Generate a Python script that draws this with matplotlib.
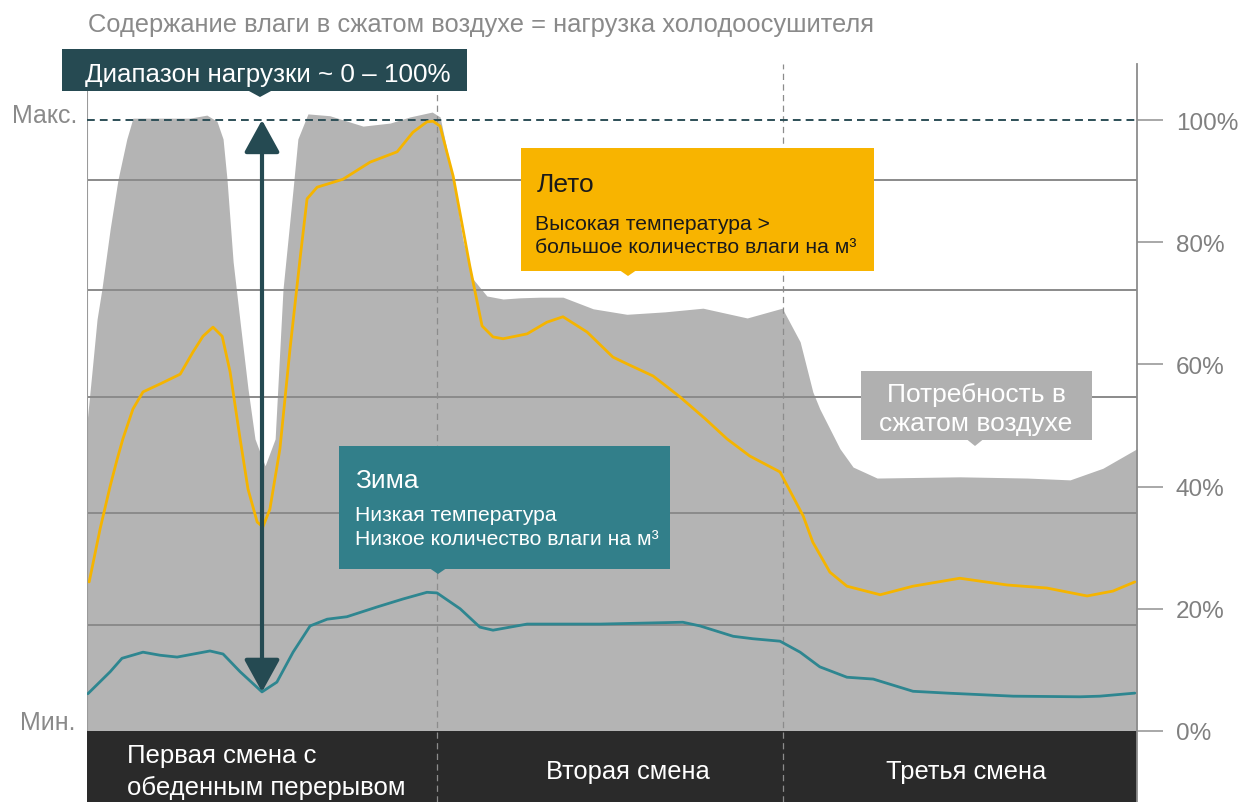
import matplotlib.pyplot as plt
from matplotlib.patches import Rectangle, Polygon, FancyArrowPatch

plt.rcParams['font.family'] = ['Liberation Sans', 'DejaVu Sans']

# compressed air demand (grey area), hours of the day vs load %
demand_hours = [0.00, 0.11, 0.23, 0.34, 0.53, 0.71, 0.91, 1.05, 1.67, 2.35, 2.74, 2.97,
                3.11, 3.20, 3.34, 3.50, 3.68, 3.84, 4.07, 4.30, 4.48, 4.71, 4.82, 5.05,
                5.55, 6.31, 6.93, 7.38, 7.89, 8.07, 8.37, 8.59, 8.82, 9.14, 9.51, 9.90,
                10.35, 10.88, 11.57, 12.34, 13.21, 14.08, 15.09, 15.89, 16.30, 16.59,
                16.75, 17.21, 17.51, 18.06, 19.95, 21.49, 22.47, 23.22, 24.00]
demand = [50.5, 58.5, 67.4, 72.3, 82.2, 90.3, 96.9, 100.3, 100.3, 100.3, 100.8, 99.8,
          96.9, 90.3, 76.8, 66.9, 56.0, 47.8, 43.4, 47.8, 72.3, 88.7, 96.9, 101.0,
          100.7, 99.0, 99.5, 100.5, 101.3, 100.5, 90.3, 80.5, 74.0, 71.2, 70.7, 70.9,
          71.0, 71.0, 69.1, 68.2, 68.6, 69.2, 67.6, 69.2, 63.7, 55.5,
          52.7, 46.2, 43.2, 41.4, 41.6, 41.4, 41.1, 43.0, 46.2]

# summer moisture load
summer_hours = [0.05, 0.30, 0.53, 0.69, 0.82, 1.05, 1.28, 1.67, 2.13, 2.42, 2.65, 2.88,
                3.09, 3.27, 3.50, 3.68, 3.89, 4.02, 4.18, 4.41, 4.64, 4.87, 5.03, 5.26,
                5.85, 6.47, 7.09, 7.45, 7.77, 7.91, 8.07, 8.37, 8.75, 9.03, 9.28, 9.51,
                10.06, 10.51, 10.88, 11.43, 12.02, 12.34, 12.94, 13.55, 14.13, 14.63,
                15.15, 15.84, 16.37, 16.59, 16.98, 17.37, 18.13, 18.88, 19.95, 21.03,
                21.94, 22.86, 23.45, 23.95]
summer = [24.4, 33.1, 40.1, 44.5, 47.8, 52.7, 55.5, 56.8, 58.4, 62.0, 64.6, 66.1,
          64.6, 58.8, 47.8, 39.6, 34.2, 33.4, 36.3, 46.2, 62.5, 77.3, 87.1, 89.0,
          90.3, 93.1, 94.8, 98.0, 99.7, 99.8, 99.0, 90.8, 76.1, 66.3, 64.5, 64.2,
          65.0, 66.9, 67.8, 65.3, 61.2, 60.1, 58.1, 54.7, 51.1, 47.8,
          45.0, 42.4, 35.2, 30.9, 26.0, 23.7, 22.3, 23.7, 25.0, 23.9,
          23.4, 22.1, 22.9, 24.4]

# winter moisture load
winter_hours = [0.02, 0.53, 0.80, 1.28, 1.67, 2.06, 2.81, 3.11, 3.50, 4.00, 4.34, 4.71,
                5.10, 5.49, 5.94, 6.63, 7.22, 7.77, 8.00, 8.53, 8.98, 9.28, 10.06, 11.73,
                13.62, 14.01, 14.77, 15.22, 15.84, 16.30, 16.75, 17.37, 17.97, 18.88,
                19.66, 21.17, 22.70, 23.15, 23.95]
winter = [6.1, 9.7, 11.9, 12.9, 12.4, 12.1, 13.1, 12.6, 9.7, 6.4, 8.0, 12.9,
          17.2, 18.3, 18.7, 20.3, 21.6, 22.7, 22.6, 20.0, 17.0, 16.5, 17.5, 17.5,
          17.8, 17.2, 15.5, 15.1, 14.7, 12.9, 10.5, 8.8, 8.5, 6.5,
          6.2, 5.7, 5.6, 5.7, 6.2]

grid_levels = [17.4, 35.7, 54.7, 72.2, 90.2]
tick_values = [0, 20, 40, 60, 80, 100]
tick_labels = ['0%', '20%', '40%', '60%', '80%', '100%']
shift_edges = [8, 15.9]
range_hour = 4.0
range_low, range_high = 6.4, 100

W, H = 1241, 803
px = 6.11  # pixels per percent
fig = plt.figure(figsize=(W / 100, H / 100), dpi=100)
ax = fig.add_axes([87 / W, 0, 1050 / W, (H - 65) / H])
ax.set_xlim(0, 24)
ax.set_ylim(-(H - 732) / px, (732 - 65) / px)

ax.fill_between(demand_hours, 0, demand, color='#b4b4b4', lw=0, zorder=1)
for g in grid_levels:
    ax.axhline(g, color='#8a8a8a', lw=1.4, zorder=2)
ax.plot([0, 0], [0, 108], color='#9a9a9a', lw=1.5, zorder=2)
ax.axhspan(-(H - 732) / px, 0, color='#2a2a2a', lw=0, zorder=2)
for e in shift_edges:
    ax.axvline(e, color='#8c8c8c', lw=0.9, ls=(0, (5, 3.5)), zorder=2.6)
ax.axhline(100, xmax=0.998, color='#2d4f57', lw=1.4, ls=(0, (4, 2.6)), zorder=2.7)

ax.plot(summer_hours, summer, color='#f5b400', lw=2.0, zorder=3,
        solid_joinstyle='round', solid_capstyle='round')
ax.plot(winter_hours, winter, color='#2e8690', lw=2.0, zorder=3,
        solid_joinstyle='round', solid_capstyle='round')

ax.add_patch(FancyArrowPatch((range_hour, range_low), (range_hour, range_high),
                             arrowstyle='<|-|>,head_length=20,head_width=11',
                             mutation_scale=1, color='#254a52', lw=3,
                             shrinkA=0, shrinkB=0, zorder=4))

for s in ['top', 'left', 'bottom']:
    ax.spines[s].set_visible(False)
ax.spines['right'].set_color('#8c8c8c')
ax.spines['right'].set_linewidth(1.3)
ax.set_xticks([])
ax.yaxis.tick_right()
ax.set_yticks(tick_values)
ax.set_yticklabels(tick_labels)
ax.tick_params(axis='y', direction='out', length=19, width=1.2, color='#9a9a9a',
               pad=9, labelsize=17.5, labelcolor='#808080')

# overlay in pixel coordinates for the text and callouts
ov = fig.add_axes([0, 0, 1, 1], zorder=10)
ov.set_xlim(0, W)
ov.set_ylim(H, 0)
ov.axis('off')
ov.patch.set_alpha(0)


def callout(x0, y0, x1, y1, tip_x, color, half=8, tip=6):
    ov.add_patch(Rectangle((x0, y0), x1 - x0, y1 - y0, color=color, lw=0))
    ov.add_patch(Polygon([(tip_x - half, y1 - 0.5), (tip_x + half, y1 - 0.5),
                          (tip_x, y1 + tip)], color=color, lw=0))


ov.text(88, 32, 'Содержание влаги в сжатом воздухе = нагрузка холодоосушителя',
        color='#8a8a8a', fontsize=18.4)
ov.text(77, 123, 'Макс.', color='#8a8a8a', fontsize=18, ha='right')
ov.text(75, 730, 'Мин.', color='#8a8a8a', fontsize=18, ha='right')

callout(62, 50, 467, 92, 260, '#264a52', half=12, tip=6)
ov.text(85, 82, 'Диапазон нагрузки ~ 0 – 100%', color='white', fontsize=18.7)

callout(521, 149, 874, 272, 628, '#f8b400', tip=5)
ov.text(537, 192, 'Лето', color='#1a1a1a', fontsize=19)
ov.text(535, 230, 'Высокая температура >', color='#1a1a1a', fontsize=15.2)
ov.text(535, 253, 'большое количество влаги на м³', color='#1a1a1a', fontsize=15.2)

callout(339, 447, 670, 570, 438, '#327f8a', tip=5)
ov.text(355, 488, 'Зима', color='white', fontsize=19)
ov.text(355, 521, 'Низкая температура', color='white', fontsize=15.2)
ov.text(355, 545, 'Низкое количество влаги на м³', color='white', fontsize=15.2)

callout(861, 372, 1092, 441, 975, '#b0b0b0', tip=6)
ov.text(976, 402, 'Потребность в', color='white', fontsize=19, ha='center')
ov.text(976, 431, 'сжатом воздухе', color='white', fontsize=19, ha='center')

ov.text(127, 763, 'Первая смена с', color='white', fontsize=18.5)
ov.text(127, 795, 'обеденным перерывом', color='white', fontsize=18.5)
ov.text(628, 779, 'Вторая смена', color='white', fontsize=18.4, ha='center')
ov.text(966, 779, 'Третья смена', color='white', fontsize=18.4, ha='center')

fig.savefig('out.png', dpi=100)
